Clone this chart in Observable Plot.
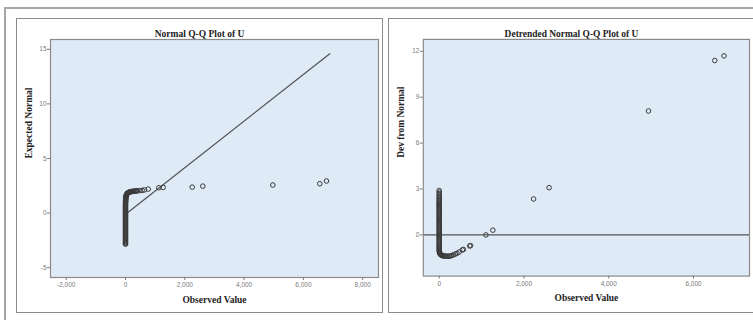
<!DOCTYPE html>
<html>
<head>
<meta charset="utf-8">
<script src="https://cdn.jsdelivr.net/npm/d3@7"></script>
<script src="https://cdn.jsdelivr.net/npm/@observablehq/plot@0.6"></script>
<style>
  html, body { margin: 0; padding: 0; background: #fff; }
  #wrap { position: relative; width: 753px; height: 320px; overflow: hidden; background: #fff; }
  .frame { position: absolute; box-sizing: border-box; pointer-events: none; }
  .panel { position: absolute; }
  .panel svg { display: block; }
</style>
</head>
<body>
<div id="wrap">
  <div class="frame" style="left:4px;top:7px;width:800px;height:400px;border:2px solid #a6a6a6;"></div>
  <div class="panel" id="p1" style="left:16px;top:19px;"></div>
  <div class="panel" id="p2" style="left:389px;top:19px;"></div>
  <div class="frame" style="left:16px;top:18px;width:367px;height:295px;border:1.5px solid #8c8c8c;"></div>
  <div class="frame" style="left:388px;top:18px;width:400px;height:295px;border:1.5px solid #8c8c8c;"></div>
</div>
<script>
// ---- Left panel: Normal Q-Q Plot of U ----
const qqTitle = "Normal Q-Q Plot of U";
const qqYLabel = "Expected Normal";
const qqObserved = [
  0, 0, 0, 0, 0, 0, 0, 0, 0, 0,
  0, 0, 0, 0, 0, 0, 0, 0, 0, 0,
  0, 0, 0, 0, 0, 0, 0, 0, 0, 0,
  0, 0, 0, 0, 0, 0, 0, 0, 0, 0,
  0, 0, 0, 0, 0, 0, 0,
  2, 3, 4, 5, 6, 8, 10, 12, 15, 18,
  22, 27, 33, 40, 50, 62, 75, 90, 110, 130,
  150, 170, 195, 220, 250, 280, 310, 340, 370, 400,
  480, 563, 640, 766, 1123, 1271, 2250, 2607, 4968, 6553,
  6779
];
const qqExpected = [
  -2.85, -2.77, -2.69, -2.61, -2.53, -2.45, -2.37, -2.29, -2.21, -2.13,
  -2.05, -1.97, -1.89, -1.81, -1.73, -1.65, -1.57, -1.49, -1.41, -1.33,
  -1.25, -1.17, -1.09, -1.01, -0.93, -0.85, -0.77, -0.69, -0.61, -0.53,
  -0.45, -0.37, -0.29, -0.21, -0.13, -0.05, 0.03, 0.11, 0.19, 0.27,
  0.35, 0.43, 0.51, 0.59, 0.67, 0.75, 0.83,
  0.91, 0.99, 1.07, 1.15, 1.22, 1.29, 1.36, 1.42, 1.48, 1.53,
  1.58, 1.63, 1.68, 1.72, 1.76, 1.8, 1.84, 1.87, 1.9, 1.92,
  1.94, 1.95, 1.97, 1.98, 1.99, 2.0, 2.01, 2.02, 2.03, 2.04,
  2.06, 2.08, 2.12, 2.2, 2.32, 2.35, 2.38, 2.47, 2.57, 2.69,
  2.94
];
const qqLineX = [-40, 6890];
const qqLineY = [-0.2, 14.6];
const qqXTicks = [-2000, 0, 2000, 4000, 6000, 8000];
const qqYTicks = [-5, 0, 5, 10, 15];

// ---- Right panel: Detrended Normal Q-Q Plot of U ----
const dtTitle = "Detrended Normal Q-Q Plot of U";
const dtYLabel = "Dev from Normal";
const dtObserved = [
  0, 0, 0, 0, 0, 0, 0, 0, 0, 0,
  0, 0, 0, 0, 0, 0, 0, 0, 0, 0,
  0, 0, 0, 0, 0, 0, 0, 0, 0, 0,
  0, 0, 0, 0, 0, 0, 0, 0, 0, 0,
  0, 0, 0, 0, 0, 0, 0, 0, 0, 0,
  0, 0, 0, 0, 0,
  3, 6, 10, 16, 25, 35, 48, 62, 80, 100,
  125, 150, 180, 211, 240, 270, 300, 342, 380, 420,
  470, 546, 570, 720, 741, 1102, 1266, 2227, 2593, 4938,
  6502, 6720
];
const dtDev = [
  2.9, 2.8, 2.7, 2.6, 2.5, 2.42, 2.34, 2.27, 2.2, 2.13,
  2.06, 1.99, 1.92, 1.85, 1.78, 1.71, 1.64, 1.57, 1.5, 1.43,
  1.36, 1.29, 1.22, 1.15, 1.08, 1.01, 0.94, 0.87, 0.8, 0.73,
  0.66, 0.59, 0.52, 0.45, 0.38, 0.31, 0.24, 0.17, 0.1, 0.03,
  -0.04, -0.11, -0.18, -0.25, -0.32, -0.39, -0.46, -0.53, -0.6, -0.67,
  -0.74, -0.81, -0.88, -0.95, -1.02,
  -1.08, -1.13, -1.18, -1.22, -1.26, -1.29, -1.32, -1.34, -1.36, -1.37,
  -1.38, -1.39, -1.39, -1.4, -1.39, -1.37, -1.34, -1.3, -1.25, -1.2,
  -1.12, -0.98, -0.95, -0.72, -0.7, 0, 0.31, 2.35, 3.09, 8.1,
  11.4, 11.7
];
const dtXTicks = [0, 2000, 4000, 6000];
const dtYTicks = [0, 3, 6, 9, 12];

const xLabel = "Observed Value";

const fmt = d3.formatLocale({decimal: ".", thousands: ",", grouping: [3], currency: ["", ""], minus: "-"}).format(",");
const serif = "Liberation Serif, Times New Roman, serif";

function panel({title, yLabel, xDomain, yDomain, xTicks, yTicks, marks}) {
  const lab = {fontFamily: serif, fontWeight: "bold", fontSize: 9.5, fill: "#222", text: d => d};
  return Plot.plot({
    width: 366, height: 293,
    marginLeft: 34, marginRight: 4, marginTop: 20, marginBottom: 35,
    style: {fontFamily: "Liberation Sans, Arial, sans-serif", fontSize: "6.5px", color: "#7a7a7a", background: "transparent", overflow: "visible"},
    x: {domain: xDomain, label: null},
    y: {domain: yDomain, label: null},
    marks: [
      Plot.frame({fill: "#dfeaf7", stroke: "none"}),
      ...marks,
      Plot.frame({stroke: "#8a8a8a", strokeWidth: 1.2}),
      Plot.axisX(xTicks, {tickSize: 3, tickPadding: 2, tickFormat: fmt, label: null}),
      Plot.axisY(yTicks, {tickSize: 3, tickPadding: 1, tickFormat: fmt, label: null}),
      Plot.text([title], {...lab, frameAnchor: "top", dy: -9, dx: -15}),
      Plot.text([xLabel], {...lab, frameAnchor: "bottom", dy: 25}),
      Plot.text([yLabel], {...lab, frameAnchor: "left", dx: -22, rotate: -90})
    ]
  });
}

const dotStyle = {r: 2.3, stroke: "#3a3a3a", strokeWidth: 1, fill: "none"};

document.getElementById("p1").appendChild(panel({
  title: qqTitle, yLabel: qqYLabel,
  xDomain: [-2530, 8533], yDomain: [-5.9, 15.9],
  xTicks: qqXTicks, yTicks: qqYTicks,
  marks: [
    Plot.line(qqLineX.map((x, i) => ({x, y: qqLineY[i]})), {x: "x", y: "y", stroke: "#555", strokeWidth: 1.3}),
    Plot.dot(qqObserved.map((x, i) => ({x, y: qqExpected[i]})), {x: "x", y: "y", ...dotStyle})
  ]
}));

document.getElementById("p2").appendChild(panel({
  title: dtTitle, yLabel: dtYLabel,
  xDomain: [-375, 7322], yDomain: [-2.69, 12.78],
  xTicks: dtXTicks, yTicks: dtYTicks,
  marks: [
    Plot.ruleY([0], {stroke: "#555", strokeWidth: 1.3}),
    Plot.dot(dtObserved.map((x, i) => ({x, y: dtDev[i]})), {x: "x", y: "y", ...dotStyle})
  ]
}));
</script>
</body>
</html>
